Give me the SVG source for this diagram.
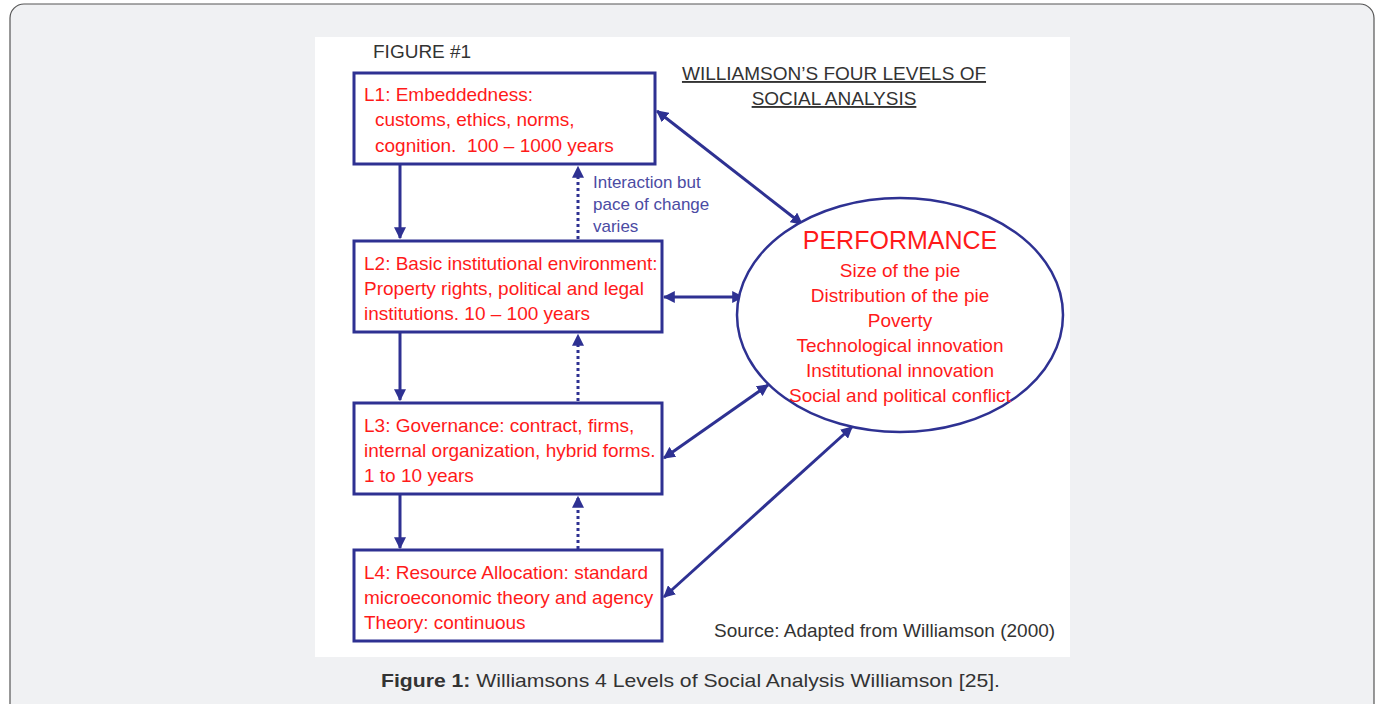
<svg xmlns="http://www.w3.org/2000/svg" width="1380" height="704" viewBox="0 0 1380 704">
<defs>
<style>
.box{fill:#fff;stroke:#2e3192;stroke-width:3}
.lbl{font-family:"Liberation Sans",Arial,sans-serif;font-size:19px;fill:#ff1a1a}
.conn{stroke:#2e3192;stroke-width:3;fill:none}
.dot{stroke:#2e3192;stroke-width:3;fill:none;stroke-dasharray:3 3}
.gray{font-family:"Liberation Sans",Arial,sans-serif;fill:#333}
.blue{font-family:"Liberation Sans",Arial,sans-serif;font-size:17px;fill:#4b4ba3}
</style>
<marker id="ah" viewBox="0 0 10 10" refX="9" refY="5" markerWidth="4" markerHeight="4" orient="auto-start-reverse">
<path d="M0,0 L10,5 L0,10 Z" fill="#2e3192"/>
</marker>
</defs>
<rect x="0" y="0" width="1380" height="704" fill="#fff"/>
<rect x="10" y="4" width="1364" height="720" rx="14" fill="#f0f1f3" stroke="#555" stroke-width="1.2"/>
<rect x="315" y="37" width="755" height="620" fill="#fff"/>
<text class="gray" x="373" y="58" font-size="19">FIGURE #1</text>
<text class="gray" x="834" y="80" font-size="19" text-anchor="middle" text-decoration="underline">WILLIAMSON’S FOUR LEVELS OF</text>
<text class="gray" x="834" y="105" font-size="19" text-anchor="middle" text-decoration="underline">SOCIAL ANALYSIS</text>
<text class="gray" x="714" y="637" font-size="19">Source: Adapted from Williamson (2000)</text>

<g id="connectors">
<line class="conn" x1="400" y1="165" x2="400" y2="238" marker-end="url(#ah)"/>
<line class="conn" x1="400" y1="333" x2="400" y2="400" marker-end="url(#ah)"/>
<line class="conn" x1="400" y1="495" x2="400" y2="548" marker-end="url(#ah)"/>
<line class="dot" x1="578" y1="239" x2="578" y2="167" marker-end="url(#ah)"/>
<line class="dot" x1="578" y1="401" x2="578" y2="335" marker-end="url(#ah)"/>
<line class="dot" x1="578" y1="549" x2="578" y2="497" marker-end="url(#ah)"/>
<line class="conn" x1="657" y1="111" x2="802" y2="224" marker-start="url(#ah)" marker-end="url(#ah)"/>
<line class="conn" x1="664" y1="297" x2="743" y2="297" marker-start="url(#ah)" marker-end="url(#ah)"/>
<line class="conn" x1="664" y1="458" x2="768" y2="385" marker-start="url(#ah)" marker-end="url(#ah)"/>
<line class="conn" x1="664" y1="597" x2="852" y2="427" marker-start="url(#ah)" marker-end="url(#ah)"/>
</g>

<g id="L1">
<rect class="box" x="354" y="73" width="301" height="91"/>
<text class="lbl" x="364" y="101">L1: Embeddedness:</text>
<text class="lbl" x="375" y="126">customs, ethics, norms,</text>
<text class="lbl" x="375" y="152" xml:space="preserve">cognition.  100 – 1000 years</text>
</g>
<g id="L2">
<rect class="box" x="354" y="241" width="308" height="91"/>
<text class="lbl" x="364" y="270">L2: Basic institutional environment:</text>
<text class="lbl" x="364" y="295">Property rights, political and legal</text>
<text class="lbl" x="364" y="320">institutions. 10 – 100 years</text>
</g>
<g id="L3">
<rect class="box" x="354" y="403" width="308" height="91"/>
<text class="lbl" x="364" y="432">L3: Governance: contract, firms,</text>
<text class="lbl" x="364" y="457">internal organization, hybrid forms.</text>
<text class="lbl" x="364" y="482">1 to 10 years</text>
</g>
<g id="L4">
<rect class="box" x="354" y="550" width="308" height="91"/>
<text class="lbl" x="364" y="579">L4: Resource Allocation: standard</text>
<text class="lbl" x="364" y="604">microeconomic theory and agency</text>
<text class="lbl" x="364" y="629">Theory: continuous</text>
</g>
<g id="interaction">
<text class="blue" x="593" y="188">Interaction but</text>
<text class="blue" x="593" y="210">pace of change</text>
<text class="blue" x="593" y="232">varies</text>
</g>
<g id="performance">
<ellipse cx="900" cy="315" rx="163" ry="117" fill="#fff" stroke="#2e3192" stroke-width="2.5"/>
<text class="lbl" x="900" y="249" text-anchor="middle" style="font-size:25px">PERFORMANCE</text>
<text class="lbl" x="900" y="277" text-anchor="middle">Size of the pie</text>
<text class="lbl" x="900" y="302" text-anchor="middle">Distribution of the pie</text>
<text class="lbl" x="900" y="327" text-anchor="middle">Poverty</text>
<text class="lbl" x="900" y="352" text-anchor="middle">Technological innovation</text>
<text class="lbl" x="900" y="377" text-anchor="middle">Institutional innovation</text>
<text class="lbl" x="900" y="402" text-anchor="middle">Social and political conflict</text>
</g>
<text class="gray" x="381" y="687" font-size="19" fill="#222" textLength="619" lengthAdjust="spacingAndGlyphs"><tspan font-weight="bold">Figure 1:</tspan> Williamsons 4 Levels of Social Analysis Williamson [25].</text>
</svg>
